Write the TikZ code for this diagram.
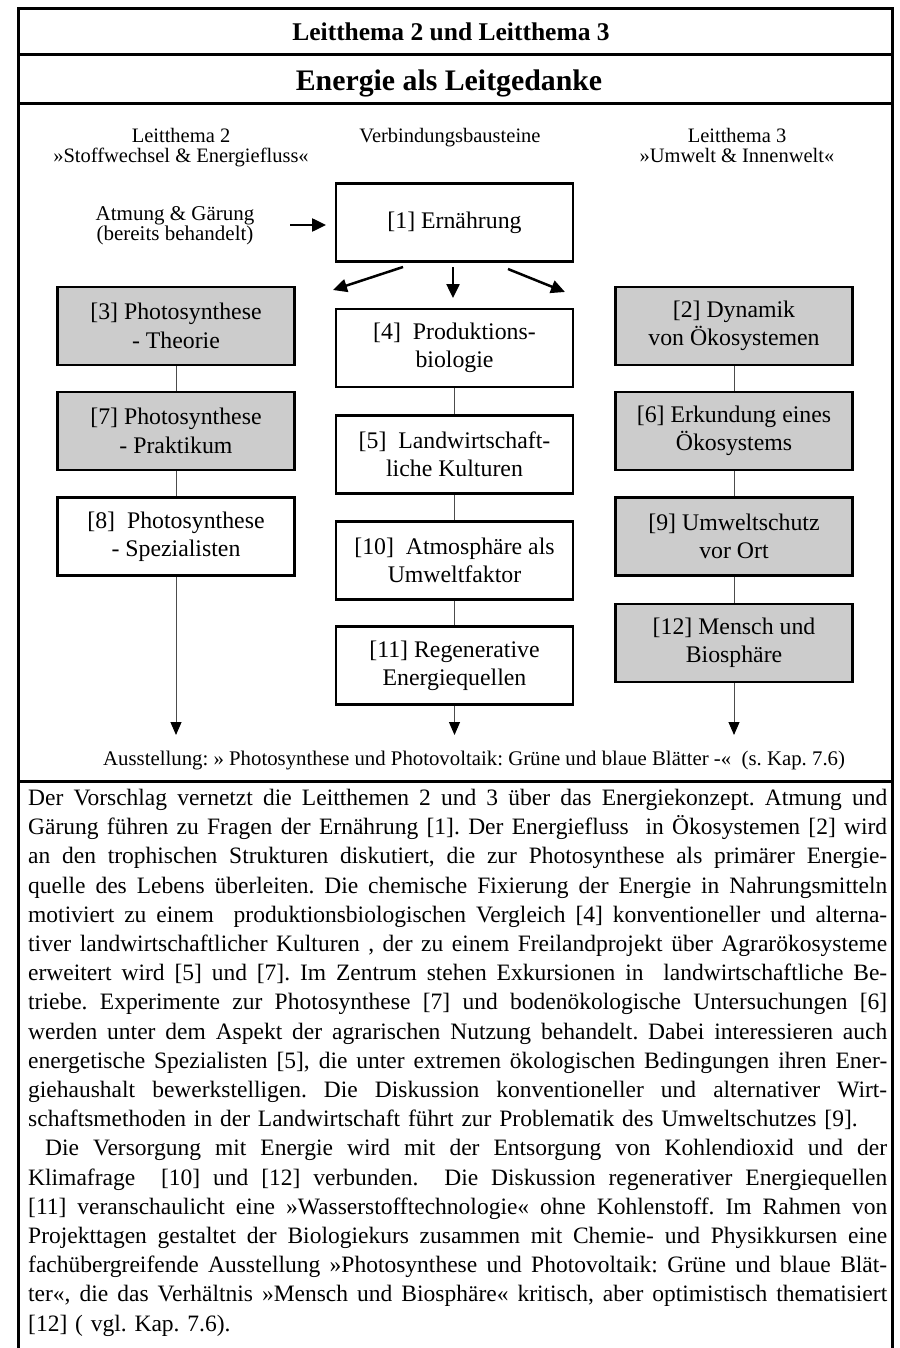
\documentclass[tikz,border=0pt]{standalone}
\usepackage{fontspec}
\setmainfont{Liberation Serif}
\usetikzlibrary{arrows.meta}
\frenchspacing

\newlength\measure
\setlength\measure{859pt}
% one justified line of the running text: the spaces stretch to the full measure
\newcommand\jl[1]{\hbox to\measure{\spaceskip=\fontdimen2\font plus 1fil\relax #1}}
% last line of a paragraph, at its natural width
\newcommand\lastl[1]{\hbox{#1}}

\begin{document}
\begin{tikzpicture}[x=1pt,y=-1pt,
  frame/.style={line width=3pt},
  hdr/.style={font=\fontsize{20.5}{20}\selectfont, align=center, inner sep=0pt},
  topic/.style={draw, line width=2.5pt, minimum width=237pt, minimum height=78pt,
                align=center, inner sep=0pt, font=\fontsize{23.8}{28.3}\selectfont},
  shaded/.style={topic, fill=gray!40},
  plain/.style={topic, fill=white},
  link/.style={line width=1pt, black!70},
  bigarrow/.style={line width=2.5pt, -{Triangle[length=14pt,width=13pt]}},
  endarrow/.style={line width=1pt, black!70, -{Triangle[length=13pt,width=11pt,fill=black,color=black]}},
]
\useasboundingbox (0,0) rectangle (899,1348);

% outer frame (open at the foot) and the rules between the bands
\draw[frame] (18,1348) -- (18,9) -- (892,9) -- (892,1348);
\draw[frame] (18,55) -- (892,55);
\draw[frame] (18,104) -- (892,104);
\draw[frame] (18,781) -- (892,781);

% title bands
\node[font=\bfseries\fontsize{25.5}{30}\selectfont, anchor=base, inner sep=0pt] (title) at (451,41) {Leitthema 2 und Leitthema 3};
\node[font=\bfseries\fontsize{29.8}{34}\selectfont, anchor=base, inner sep=0pt] (subtitle) at (449,91) {Energie als Leitgedanke};

% column heads
\node[hdr, anchor=north] (head2) at (181,128) {Leitthema 2\\»Stoffwechsel \& Energiefluss«};
\node[hdr, anchor=north] (headv) at (450,128) {Verbindungsbausteine};
\node[hdr, anchor=north] (head3) at (737,128) {Leitthema 3\\»Umwelt \& Innenwelt«};

\node[hdr, font=\fontsize{21}{20}\selectfont, anchor=north] (pre) at (175,206) {Atmung \& Gärung\\(bereits behandelt)};

% building blocks
\node[plain]  (b1)  at (454.5,222.5) {[1] Ernährung};

\node[shaded] (b3)  at (176,326)   {[3] Photosynthese\\- Theorie};
\node[shaded] (b7)  at (176,431)   {[7] Photosynthese\\- Praktikum};
\node[plain]  (b8)  at (176,536.5) {[8]\ \ Photosynthese\\- Spezialisten};

\node[plain]  (b4)  at (454.5,348)   {[4]\ \ Produktions-\\biologie};
\node[plain]  (b5)  at (454.5,454.5) {[5]\ \ Landwirtschaft-\\liche Kulturen};
\node[plain]  (b10) at (454.5,560.5) {[10]\ \ Atmosphäre als\\Umweltfaktor};
\node[plain]  (b11) at (454.5,665.5) {[11] Regenerative\\Energiequellen};

\node[shaded] (b2)  at (734,326)   {[2] Dynamik\\von Ökosystemen};
\node[shaded] (b6)  at (734,431)   {[6] Erkundung eines\\Ökosystems};
\node[shaded] (b9)  at (734,536.5) {[9] Umweltschutz\\vor Ort};
\node[shaded] (b12) at (734,643)   {[12] Mensch und\\Biosphäre};

% free ends of the arrows
\coordinate (preS) at (290,225);
\coordinate (preE) at (326,225);
\coordinate (fanLs) at (403,267);
\coordinate (fanLe) at (333,290);
\coordinate (fanMs) at (453,267);
\coordinate (fanMe) at (453,298);
\coordinate (fanRs) at (508,269);
\coordinate (fanRe) at (565,292);
\coordinate (endL) at (176,735);
\coordinate (endM) at (454.5,735);
\coordinate (endR) at (734,735);

\draw[bigarrow] (preS) -- (preE);
\draw[bigarrow] (fanLs) -- (fanLe);
\draw[bigarrow] (fanMs) -- (fanMe);
\draw[bigarrow] (fanRs) -- (fanRe);

% column links
\draw[link] (b3.south) -- (b7.north);
\draw[link] (b7.south) -- (b8.north);
\draw[link] (b4.south) -- (b5.north);
\draw[link] (b5.south) -- (b10.north);
\draw[link] (b10.south) -- (b11.north);
\draw[link] (b2.south) -- (b6.north);
\draw[link] (b6.south) -- (b9.north);
\draw[link] (b9.south) -- (b12.north);

\draw[endarrow] (b8.south) -- (endL);
\draw[endarrow] (b11.south) -- (endM);
\draw[endarrow] (b12.south) -- (endR);

\node[anchor=base west, inner sep=0pt, font=\fontsize{20.8}{24}\selectfont] (expo) at (103,765)
  {Ausstellung: » Photosynthese und Photovoltaik: Grüne und blaue Blätter -«\ \ (s. Kap. 7.6)};

% running text below the chart
\node[anchor=north west, inner sep=0pt, text width=859pt, font=\fontsize{23.5}{29.2}\selectfont] (body) at (28,789) {%
\jl{Der Vorschlag vernetzt die Leitthemen 2 und 3 über das Energiekonzept. Atmung und}
\jl{Gärung führen zu Fragen der Ernährung [1]. Der Energiefluss\ \ in Ökosystemen [2] wird}
\jl{an den trophischen Strukturen diskutiert, die zur Photosynthese als primärer Energie-}
\jl{quelle des Lebens überleiten. Die chemische Fixierung der Energie in Nahrungsmitteln}
\jl{motiviert zu einem\ \ produktionsbiologischen Vergleich [4] konventioneller und alterna-}
\jl{tiver landwirtschaftlicher Kulturen , der zu einem Freilandprojekt über Agrarökosysteme}
\jl{erweitert wird [5] und [7]. Im Zentrum stehen Exkursionen in\ \ landwirtschaftliche Be-}
\jl{triebe. Experimente zur Photosynthese [7] und bodenökologische Untersuchungen [6]}
\jl{werden unter dem Aspekt der agrarischen Nutzung behandelt. Dabei interessieren auch}
\jl{energetische Spezialisten [5], die unter extremen ökologischen Bedingungen ihren Ener-}
\jl{giehaushalt bewerkstelligen. Die Diskussion konventioneller und alternativer Wirt-}
\lastl{schaftsmethoden in der Landwirtschaft führt zur Problematik des Umweltschutzes [9].}
\jl{\kern17pt Die Versorgung mit Energie wird mit der Entsorgung von Kohlendioxid und der}
\jl{Klimafrage\ \ [10] und [12] verbunden.\ \ Die Diskussion regenerativer Energiequellen}
\jl{[11] veranschaulicht eine »Wasserstofftechnologie« ohne Kohlenstoff. Im Rahmen von}
\jl{Projekttagen gestaltet der Biologiekurs zusammen mit Chemie- und Physikkursen eine}
\jl{fachübergreifende Ausstellung »Photosynthese und Photovoltaik: Grüne und blaue Blät-}
\jl{ter«, die das Verhältnis »Mensch und Biosphäre« kritisch, aber optimistisch thematisiert}
\lastl{[12] ( vgl. Kap. 7.6).}%
};
\end{tikzpicture}
\end{document}
